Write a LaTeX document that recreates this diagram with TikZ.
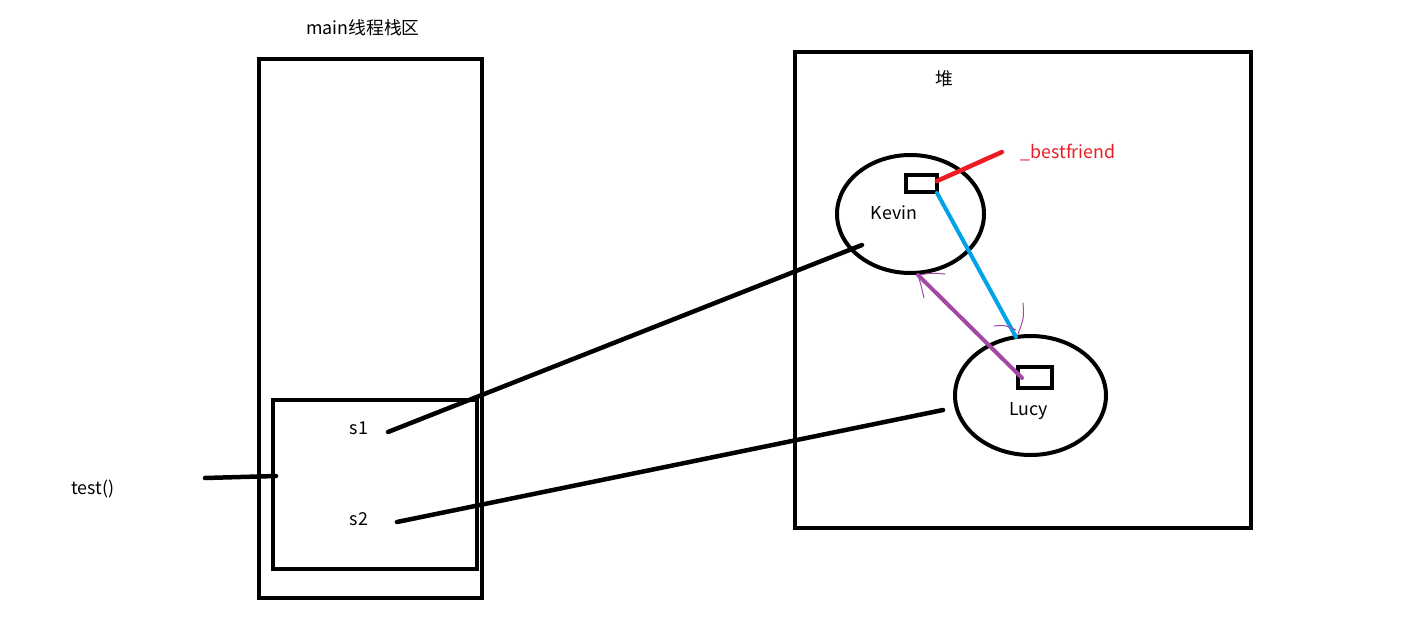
\documentclass[tikz,border=0pt]{standalone}
\usepackage{fontspec}
\setmainfont{Noto Sans CJK SC}
\usetikzlibrary{shapes.geometric}
\definecolor{pred}{RGB}{237,28,36}
\definecolor{pblue}{RGB}{0,162,232}
\definecolor{ppurple}{RGB}{163,73,164}
\begin{document}
\begin{tikzpicture}[x=1pt,y=-1pt,
  box/.style={draw=black,line width=4pt,inner sep=0pt,outer sep=0pt,rectangle},
  oval/.style={draw=black,line width=4pt,inner sep=0pt,outer sep=0pt,ellipse},
  field/.style={draw=black,line width=3.5pt,inner sep=0pt,outer sep=0pt,rectangle},
  lbl/.style={inner sep=0pt,font=\fontsize{17.8}{20}\selectfont},
  link/.style={line width=4.5pt,line cap=round},
  pen/.style={ppurple,line width=1pt,line cap=round}]
\useasboundingbox[fill=white] (0,0) rectangle (1403,634);
% stack
\node[box,minimum width=223,minimum height=539] (stack) at (370.5,328.5) {};
\node[box,minimum width=204,minimum height=169] (frame) at (375,484.5) {};
\node[lbl] (stacklbl) at (363,28) {main线程栈区};
\node[lbl] (s1) at (359,428) {s1};
\node[lbl] (s2) at (359,519) {s2};
\node[lbl] (test) at (93,489) {test()};
% heap
\node[box,minimum width=456,minimum height=476] (heap) at (1023,290) {};
\node[lbl] (heaplbl) at (944,79) {堆};
\node[oval,minimum width=147,minimum height=118] (kevin) at (910.5,214) {};
\node[oval,minimum width=151,minimum height=119] (lucy) at (1030.5,395.5) {};
\node[lbl] (kevinlbl) at (894,213) {Kevin};
\node[lbl] (lucylbl) at (1028.5,411) {Lucy};
\node[field,minimum width=31,minimum height=17] (kf) at (921.5,183.5) {};
\node[field,minimum width=34,minimum height=21] (lf) at (1035,377.5) {};
\node[lbl,text=pred] (bf) at (1068,153) {\_bestfriend};
% connector ends
\coordinate (t0) at (205,478);
\coordinate (t1) at (276,476);
\coordinate (a0) at (388,432);
\coordinate (a1) at (862,245);
\coordinate (b0) at (397,522);
\coordinate (b1) at (943,410);
\coordinate (r0) at (937,181);
\coordinate (r1) at (1002,152);
\coordinate (u0) at (937,193);
\coordinate (u1) at (1016,337);
\coordinate (p0) at (1022,378);
\coordinate (p1) at (918,275);
\draw[link] (t0) -- (t1);
\draw[link] (a0) -- (a1);
\draw[link] (b0) -- (b1);
\draw[link,pred] (r0) -- (r1);
\draw[link,pblue,line width=4pt] (u0) -- (u1);
\draw[link,ppurple,line width=4pt] (p0) -- (p1);
% hand-drawn arrow tips
\draw[pen] (p1) .. controls (921,285) .. (924,298);
\draw[pen] (p1) .. controls (932,273) .. (945,274);
\draw[pen] (994,326) .. controls (1005,325) .. (1016,330);
\draw[pen] (1023,303) .. controls (1024,318) .. (1018,334);
\end{tikzpicture}
\end{document}
